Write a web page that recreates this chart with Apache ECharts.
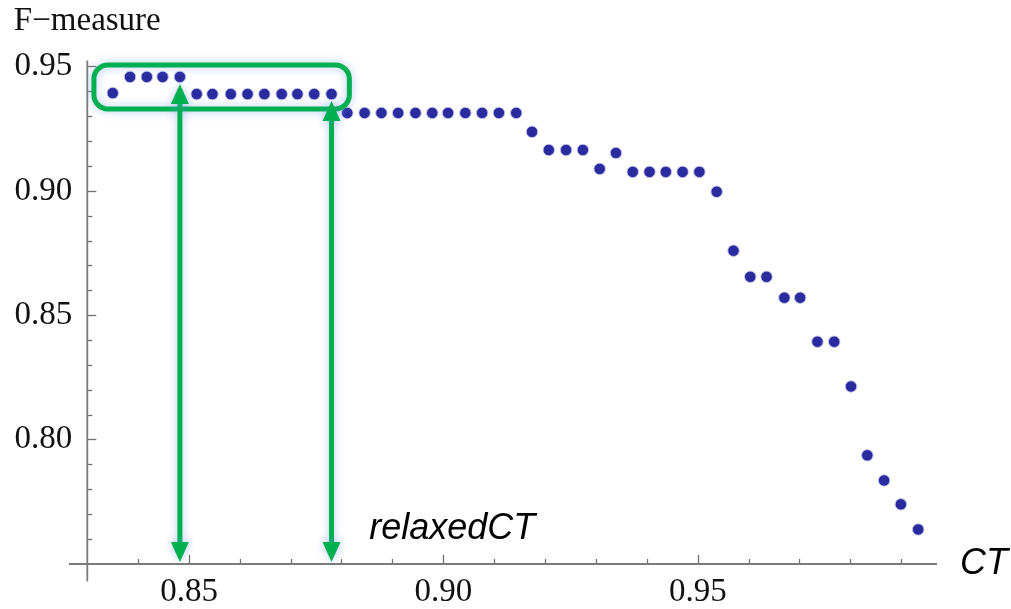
<!DOCTYPE html>
<html><head><meta charset="utf-8">
<script src="https://cdn.jsdelivr.net/npm/echarts@6/dist/echarts.min.js"></script>
<style>html,body{margin:0;padding:0;background:#fff}#c{width:1011px;height:609px}</style>
</head><body><div id="c"></div>
<script>
// ---- data ----
const ctValues = [0.8350,0.8384,0.8417,0.8448,0.8482,0.8515,0.8546,0.8582,0.8615,0.8648,
  0.8682,0.8713,0.8746,0.8780,0.8811,0.8845,0.8878,0.8911,0.8945,0.8978,
  0.9009,0.9043,0.9076,0.9109,0.9143,0.9174,0.9207,0.9241,0.9274,0.9307,
  0.9339,0.9372,0.9405,0.9437,0.9470,0.9503,0.9537,0.9570,0.9603,0.9635,
  0.9670,0.9701,0.9735,0.9768,0.9801,0.9833,0.9866,0.9899,0.9933];
const fMeasure = [0.9394,0.9459,0.9459,0.9459,0.9459,0.9390,0.9390,0.9390,0.9390,0.9390,
  0.9390,0.9390,0.9390,0.9390,0.9314,0.9314,0.9314,0.9314,0.9314,0.9314,
  0.9314,0.9314,0.9314,0.9314,0.9314,0.9238,0.9165,0.9165,0.9165,0.9089,
  0.9153,0.9077,0.9077,0.9077,0.9077,0.9077,0.8997,0.8760,0.8655,0.8655,
  0.8571,0.8571,0.8394,0.8394,0.8214,0.7937,0.7836,0.7740,0.7639];
const xMajorTicks = [0.85, 0.90, 0.95];
const xMinorTicks = [0.84,0.86,0.87,0.88,0.89,0.91,0.92,0.93,0.94,0.96,0.97,0.98,0.99];
const yMajorTicks = [0.80, 0.85, 0.90, 0.95];
const yMinorTicks = [0.76,0.77,0.78,0.79,0.81,0.82,0.83,0.84,0.86,0.87,0.88,0.89,0.91,0.92,0.93,0.94];
const xRange = [0.83, 0.997];
const yRange = [0.75, 0.9525];
const highlightIdx = [4, 13];           // points marked by arrows
const boxCorners = [[0.8313, 0.9507], [0.8815, 0.9330]];
const yAxisTitle = 'F\u2212measure';
const xAxisTitle = 'CT';
const noteText = 'relaxedCT';
const notePos = [0.8854, 0.7639];

// ---- chart ----
const chart = echarts.init(document.getElementById('c'));
const serif = 'Liberation Serif';
const tickColor = '#707070';
const green = '#00B050';
const glow = 'rgba(110,150,230,0.55)';

const option = {
  animation: false,
  backgroundColor: '#fff',
  grid: { left: 87.3, right: 72, top: 60.5, bottom: 44.3, containLabel: false },
  xAxis: [{
    type: 'value', min: xRange[0], max: xRange[1], position: 'bottom',
    axisLine: { show: false, onZero: false },
    splitLine: { show: false },
    axisTick: { show: true, inside: true, length: 9, customValues: xMajorTicks, lineStyle: { color: tickColor, width: 1.3 } },
    axisLabel: { customValues: xMajorTicks, formatter: v => v.toFixed(2), margin: 12,
      fontFamily: serif, fontSize: 33, color: '#111' },
    name: xAxisTitle, nameLocation: 'end', nameGap: 23,
    nameTextStyle: { fontFamily: 'Liberation Sans', fontStyle: 'italic', fontSize: 36, color: '#000',
      align: 'left', verticalAlign: 'middle', padding: [8, 0, 0, 0] }
  }, {
    type: 'value', min: xRange[0], max: xRange[1], position: 'bottom',
    axisLine: { show: false, onZero: false }, splitLine: { show: false },
    axisTick: { show: true, inside: true, length: 5, customValues: xMinorTicks, lineStyle: { color: tickColor, width: 1.3 } },
    axisLabel: { show: false }
  }],
  yAxis: [{
    type: 'value', min: yRange[0], max: yRange[1], position: 'left',
    axisLine: { show: false, onZero: false },
    splitLine: { show: false },
    axisTick: { show: true, inside: true, length: 9, customValues: yMajorTicks, lineStyle: { color: tickColor, width: 1.3 } },
    axisLabel: { customValues: yMajorTicks, formatter: v => v.toFixed(2), margin: 15,
      fontFamily: serif, fontSize: 33, color: '#111' },
    name: yAxisTitle, nameLocation: 'end', nameGap: 39,
    nameTextStyle: { fontFamily: serif, fontSize: 33, color: '#111', align: 'center', verticalAlign: 'middle' }
  }, {
    type: 'value', min: yRange[0], max: yRange[1], position: 'left',
    axisLine: { show: false, onZero: false }, splitLine: { show: false },
    axisTick: { show: true, inside: true, length: 5, customValues: yMinorTicks, lineStyle: { color: tickColor, width: 1.3 } },
    axisLabel: { show: false }
  }],
  series: [{
    type: 'scatter', xAxisIndex: 0, yAxisIndex: 0,
    data: ctValues.map((x, i) => [x, fMeasure[i]]),
    symbol: 'circle', symbolSize: 11.5,
    itemStyle: { color: '#2B2BA0', borderColor: 'rgba(200,200,235,0.9)', borderWidth: 1, opacity: 1 },
    z: 3
  }]
};
chart.setOption(option);

// ---- annotations, positioned through the chart's scales ----
const P = (x, y) => chart.convertToPixel({ gridIndex: 0 }, [x, y]);
const gfx = [];
const axisColor = '#7a7a7a';
// Mathematica-style crossing axes
const xa0 = P(0.8264, yRange[0]), xa1 = P(xRange[1], yRange[0]);
gfx.push({ type: 'line', z: 1, shape: { x1: xa0[0], y1: xa0[1], x2: xa1[0], y2: xa1[1] }, style: { stroke: axisColor, lineWidth: 1.8 } });
const ya0 = P(xRange[0], 0.7431), ya1 = P(xRange[0], yRange[1]);
gfx.push({ type: 'line', z: 1, shape: { x1: ya0[0], y1: ya0[1], x2: ya1[0], y2: ya1[1] }, style: { stroke: axisColor, lineWidth: 1.8 } });

// rounded box
const b0 = P(boxCorners[0][0], boxCorners[0][1]), b1 = P(boxCorners[1][0], boxCorners[1][1]);
gfx.push({ type: 'rect', z: 50, shape: { x: b0[0], y: b0[1], width: b1[0] - b0[0], height: b1[1] - b0[1], r: 14 },
  style: { fill: 'none', stroke: green, lineWidth: 5, shadowBlur: 10, shadowColor: glow } });

// double-headed arrows
const axisY = P(xRange[0], yRange[0])[1];
highlightIdx.forEach(i => {
  const p = P(ctValues[i], fMeasure[i]);
  const x = p[0], top = p[1] + 7, bot = axisY - 2;
  const hw = 9, hl = 20;
  gfx.push({ type: 'line', z: 50, shape: { x1: x, y1: top + hl - 2, x2: x, y2: bot - hl + 2 },
    style: { stroke: green, lineWidth: 5, shadowBlur: 10, shadowColor: glow } });
  gfx.push({ type: 'polygon', z: 51, shape: { points: [[x, top], [x - hw, top + hl], [x + hw, top + hl]] },
    style: { fill: green, shadowBlur: 8, shadowColor: glow } });
  gfx.push({ type: 'polygon', z: 51, shape: { points: [[x, bot], [x - hw, bot - hl], [x + hw, bot - hl]] },
    style: { fill: green, shadowBlur: 8, shadowColor: glow } });
});

// note text
const np = P(notePos[0], notePos[1]);
gfx.push({ type: 'text', z: 60, style: { x: np[0], y: np[1], text: noteText, fill: '#000',
  font: 'italic 36px "Liberation Sans"', align: 'left', verticalAlign: 'middle' } });

chart.setOption({ graphic: gfx });
</script>
</body></html>
